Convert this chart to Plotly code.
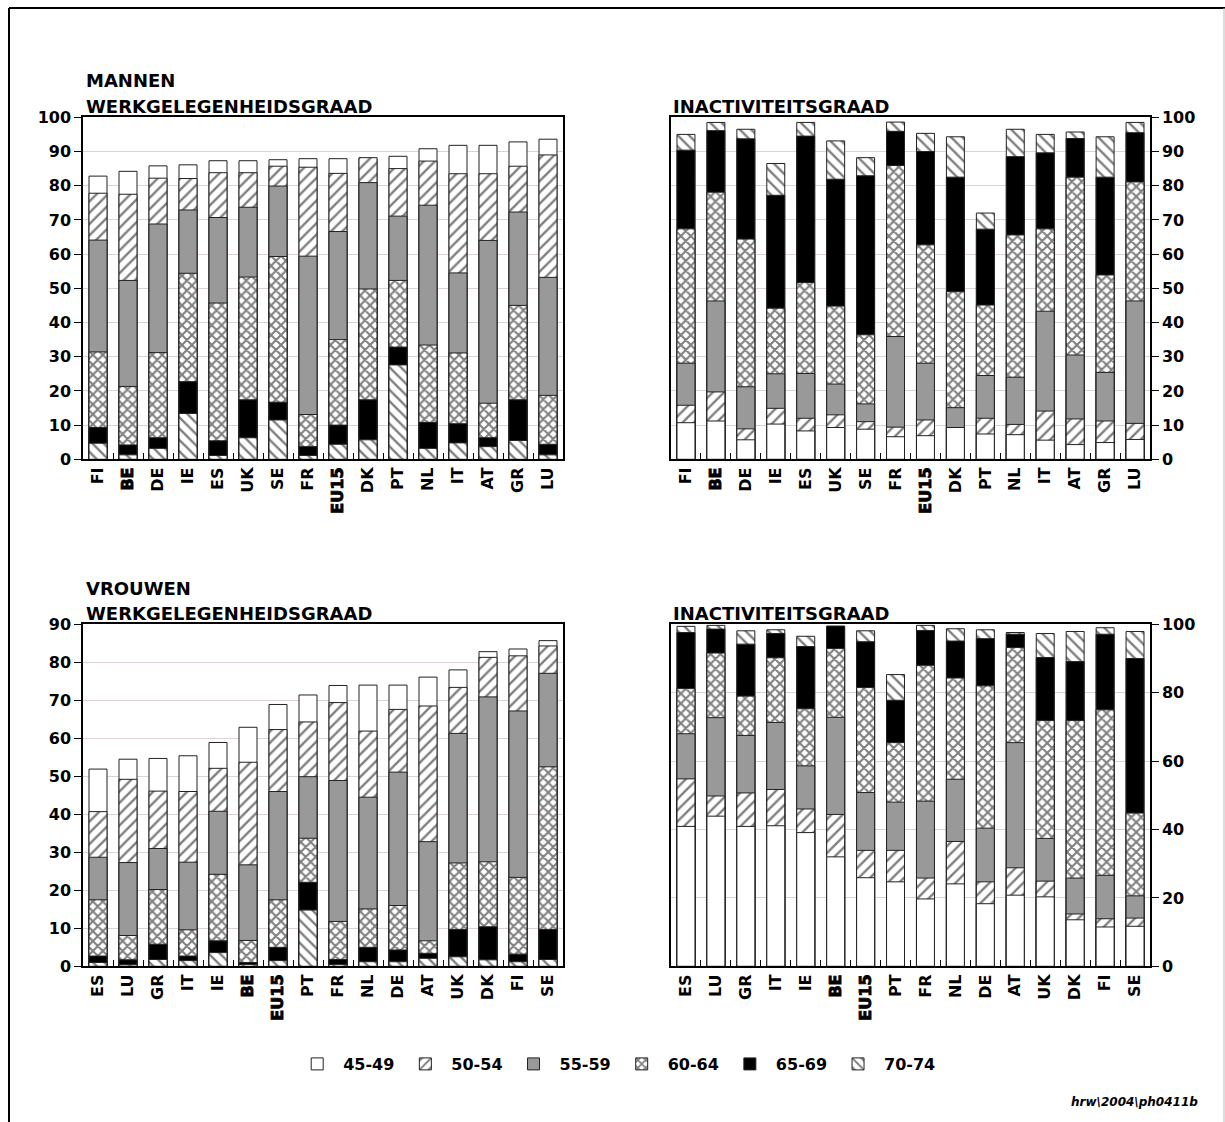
import plotly.graph_objects as go

# ---------------------------------------------------------------------------
# Data: rates (%) per age group, one list per age group and panel
# ---------------------------------------------------------------------------
AGE_GROUPS = ["45-49", "50-54", "55-59", "60-64", "65-69", "70-74"]

# Men - employment rate
MEN_EMP_COUNTRIES = ["FI", "BE", "DE", "IE", "ES", "UK", "SE", "FR",
                     "EU15", "DK", "PT", "NL", "IT", "AT", "GR", "LU"]
MEN_EMP_45_49 = [82.8, 84.2, 85.8, 86.1, 87.3, 87.3, 87.6, 87.9, 87.9, 87.9, 88.6, 90.8, 91.8, 91.8, 92.8, 93.6]
MEN_EMP_50_54 = [77.8, 77.5, 82.2, 82.1, 83.8, 83.8, 85.7, 85.4, 83.6, 88.2, 85.0, 87.2, 83.5, 83.5, 85.7, 89.0]
MEN_EMP_55_59 = [64.1, 52.3, 68.8, 72.9, 70.7, 73.7, 79.9, 59.4, 66.6, 80.9, 71.1, 74.3, 54.5, 64.0, 72.3, 53.2]
MEN_EMP_60_64 = [31.4, 21.3, 31.2, 54.4, 45.7, 53.3, 59.3, 13.1, 35.0, 49.8, 52.3, 33.4, 31.1, 16.4, 45.0, 18.7]
MEN_EMP_65_69 = [9.3, 4.2, 6.3, 22.7, 5.4, 17.4, 16.7, 3.7, 10.0, 17.4, 32.8, 10.8, 10.4, 6.3, 17.4, 4.4]
MEN_EMP_70_74 = [4.7, 1.3, 3.2, 13.4, 1.1, 6.3, 11.5, 1.1, 4.4, 5.7, 27.6, 3.2, 4.8, 3.7, 5.5, 1.3]

# Men - inactivity rate
MEN_INA_COUNTRIES = ["FI", "BE", "DE", "IE", "ES", "UK", "SE", "FR",
                     "EU15", "DK", "PT", "NL", "IT", "AT", "GR", "LU"]
MEN_INA_45_49 = [10.7, 11.2, 5.7, 10.3, 8.3, 9.3, 8.8, 6.6, 6.9, 9.3, 7.4, 7.2, 5.6, 4.3, 4.9, 5.8]
MEN_INA_50_54 = [15.8, 19.7, 8.9, 14.9, 12.0, 13.0, 11.0, 9.4, 11.5, 9.1, 12.0, 10.2, 14.1, 11.8, 11.2, 10.5]
MEN_INA_55_59 = [28.1, 46.3, 21.2, 25.0, 25.1, 22.0, 16.2, 35.9, 28.1, 15.1, 24.5, 24.0, 43.3, 30.5, 25.4, 46.3]
MEN_INA_60_64 = [67.4, 78.1, 64.4, 44.2, 51.7, 44.8, 36.4, 85.9, 62.7, 49.0, 45.1, 65.6, 67.4, 82.5, 53.9, 81.1]
MEN_INA_65_69 = [90.4, 96.1, 93.7, 77.2, 94.5, 81.9, 82.9, 95.9, 90.0, 82.5, 67.3, 88.5, 89.6, 93.8, 82.5, 95.5]
MEN_INA_70_74 = [95.0, 98.5, 96.5, 86.5, 98.5, 93.1, 88.2, 98.6, 95.3, 94.3, 72.0, 96.5, 95.0, 95.7, 94.3, 98.5]

# Women - employment rate
WOMEN_EMP_COUNTRIES = ["ES", "LU", "GR", "IT", "IE", "BE", "EU15", "PT",
                       "FR", "NL", "DE", "AT", "UK", "DK", "FI", "SE"]
WOMEN_EMP_45_49 = [51.9, 54.5, 54.7, 55.4, 58.9, 62.9, 68.9, 71.4, 73.9, 74.0, 74.0, 76.1, 78.0, 82.8, 83.5, 85.7]
WOMEN_EMP_50_54 = [40.7, 49.2, 46.1, 46.0, 52.1, 53.7, 62.3, 64.3, 69.4, 61.9, 67.6, 68.5, 73.4, 81.3, 81.7, 84.3]
WOMEN_EMP_55_59 = [28.7, 27.3, 31.0, 27.4, 40.8, 26.7, 46.0, 49.9, 48.9, 44.5, 51.1, 32.8, 61.3, 70.9, 67.2, 77.1]
WOMEN_EMP_60_64 = [17.5, 8.1, 20.2, 9.6, 24.2, 6.8, 17.5, 33.7, 11.8, 15.1, 16.0, 6.7, 27.2, 27.5, 23.4, 52.5]
WOMEN_EMP_65_69 = [2.7, 1.7, 5.8, 2.7, 6.7, 1.0, 5.0, 22.1, 1.8, 5.0, 4.3, 3.4, 9.7, 10.4, 3.2, 9.7]
WOMEN_EMP_70_74 = [1.0, 0.4, 1.8, 1.5, 3.6, 0.5, 1.5, 14.8, 0.5, 1.2, 1.2, 2.1, 2.5, 1.7, 1.2, 1.8]

# Women - inactivity rate
WOMEN_INA_COUNTRIES = ["ES", "LU", "GR", "IT", "IE", "BE", "EU15", "PT",
                       "FR", "NL", "DE", "AT", "UK", "DK", "FI", "SE"]
WOMEN_INA_45_49 = [40.9, 43.9, 40.9, 41.1, 39.1, 32.0, 25.9, 24.7, 19.7, 24.1, 18.3, 20.8, 20.3, 13.6, 11.5, 11.7]
WOMEN_INA_50_54 = [54.8, 49.8, 50.7, 51.7, 46.0, 44.4, 33.9, 33.9, 25.8, 36.5, 24.7, 28.8, 24.9, 15.3, 13.9, 14.1]
WOMEN_INA_55_59 = [68.0, 72.7, 67.5, 71.3, 58.6, 72.8, 50.8, 48.0, 48.3, 54.7, 40.4, 65.4, 37.4, 25.8, 26.6, 20.6]
WOMEN_INA_60_64 = [81.2, 91.6, 79.0, 90.2, 75.3, 92.9, 81.5, 65.4, 88.0, 84.3, 82.0, 93.2, 71.9, 71.9, 75.0, 44.8]
WOMEN_INA_65_69 = [97.6, 98.6, 94.2, 97.3, 93.5, 99.5, 94.9, 77.8, 98.2, 95.1, 95.8, 97.1, 90.3, 89.1, 97.1, 90.0]
WOMEN_INA_70_74 = [99.4, 99.7, 98.1, 98.4, 96.5, 99.3, 98.1, 85.3, 99.7, 98.7, 98.4, 97.6, 97.3, 97.9, 99.0, 97.9]

HIGHLIGHTED = {"BE", "EU15"}

# ---------------------------------------------------------------------------
# Styling
# ---------------------------------------------------------------------------
FONT = "DejaVu Sans"
OUTLINE = dict(color="#222222", width=1)


def age_marker(age):
    base = dict(line=OUTLINE)
    if age == "45-49":
        return dict(color="white", **base)
    if age == "55-59":
        return dict(color="#999999", **base)
    if age == "65-69":
        return dict(color="black", **base)
    shape, size, solidity = {"50-54": ("/", 8, 0.3),
                             "60-64": ("x", 7, 0.5),
                             "70-74": ("\\", 8, 0.3)}[age]
    return dict(color="white",
                pattern=dict(shape=shape, fgcolor="black", bgcolor="white",
                             size=size, solidity=solidity),
                **base)


def tick_text(countries):
    out = []
    for c in countries:
        if c in HIGHLIGHTED:
            out.append('<span style="stroke:black;stroke-width:0.8px">%s</span>' % c)
        else:
            out.append(c)
    return out


panels = [
    # (countries, series in age order, axis suffix, draw order)
    (MEN_EMP_COUNTRIES,
     [MEN_EMP_45_49, MEN_EMP_50_54, MEN_EMP_55_59, MEN_EMP_60_64, MEN_EMP_65_69, MEN_EMP_70_74],
     "", "down"),
    (MEN_INA_COUNTRIES,
     [MEN_INA_45_49, MEN_INA_50_54, MEN_INA_55_59, MEN_INA_60_64, MEN_INA_65_69, MEN_INA_70_74],
     "2", "up"),
    (WOMEN_EMP_COUNTRIES,
     [WOMEN_EMP_45_49, WOMEN_EMP_50_54, WOMEN_EMP_55_59, WOMEN_EMP_60_64, WOMEN_EMP_65_69, WOMEN_EMP_70_74],
     "3", "down"),
    (WOMEN_INA_COUNTRIES,
     [WOMEN_INA_45_49, WOMEN_INA_50_54, WOMEN_INA_55_59, WOMEN_INA_60_64, WOMEN_INA_65_69, WOMEN_INA_70_74],
     "4", "up"),
]

fig = go.Figure()

for p_idx, (countries, series, suffix, order) in enumerate(panels):
    idx = list(range(len(AGE_GROUPS)))
    # overlaid bars: the tallest age group goes to the back
    if order == "up":
        idx = idx[::-1]
    for i in idx:
        age = AGE_GROUPS[i]
        fig.add_trace(go.Bar(
            x=countries, y=series[i], name=age,
            marker=age_marker(age),
            xaxis="x" + suffix, yaxis="y" + suffix,
            showlegend=(p_idx == 0), legendrank=i + 1,
            hovertemplate="%{x}: %{y:.1f}%<extra>" + age + "</extra>",
        ))

W, H = 1225, 1122


def xdom(a, b):
    return [a / W, b / W]


def ydom(top, bottom):
    return [1 - bottom / H, 1 - top / H]


axis_common = dict(showline=True, linecolor="black", linewidth=1.5, mirror=True,
                   automargin=False,
                   tickfont=dict(family=FONT, size=16, color="black", weight="bold"))

x_common = dict(axis_common, type="category", ticks="inside", tickson="boundaries",
                ticklen=7, tickcolor="black", tickwidth=1, tickangle=-90,
                showgrid=False, fixedrange=True)
y_common = dict(axis_common, ticks="outside", ticklen=7, tickcolor="black", tickwidth=1.2,
                showgrid=True, gridcolor="#ddd3d3", gridwidth=1, zeroline=False,
                fixedrange=True)

LEFT = (83, 563)
RIGHT = (671, 1150)
TOP = (117.3, 459.3)
BOTTOM = (624.3, 966.3)

fig.update_layout(
    width=W, height=H,
    margin=dict(l=0, r=0, t=0, b=0, pad=0, autoexpand=False),
    paper_bgcolor="white", plot_bgcolor="white",
    barmode="overlay", bargap=0.4,
    font=dict(family=FONT, size=15, color="black", weight="bold"),
    xaxis=dict(x_common, domain=xdom(*LEFT), anchor="y",
               tickvals=MEN_EMP_COUNTRIES, ticktext=tick_text(MEN_EMP_COUNTRIES)),
    yaxis=dict(y_common, domain=ydom(*TOP), anchor="x", range=[0, 100], dtick=10),
    xaxis2=dict(x_common, domain=xdom(*RIGHT), anchor="y2",
                tickvals=MEN_INA_COUNTRIES, ticktext=tick_text(MEN_INA_COUNTRIES)),
    yaxis2=dict(y_common, domain=ydom(*TOP), anchor="x2", side="right",
                range=[0, 100], dtick=10),
    xaxis3=dict(x_common, domain=xdom(*LEFT), anchor="y3",
                tickvals=WOMEN_EMP_COUNTRIES, ticktext=tick_text(WOMEN_EMP_COUNTRIES)),
    yaxis3=dict(y_common, domain=ydom(*BOTTOM), anchor="x3", range=[0, 90], dtick=10),
    xaxis4=dict(x_common, domain=xdom(*RIGHT), anchor="y4",
                tickvals=WOMEN_INA_COUNTRIES, ticktext=tick_text(WOMEN_INA_COUNTRIES)),
    yaxis4=dict(y_common, domain=ydom(*BOTTOM), anchor="x4", side="right",
                range=[0, 100], dtick=20),
    legend=dict(orientation="h", x=0.503, xanchor="center", y=1 - 1064 / H, yanchor="middle",
                font=dict(family=FONT, size=16, color="black", weight="bold"),
                traceorder="normal", itemwidth=42, bgcolor="rgba(0,0,0,0)"),
)

title_font = dict(family=FONT, size=18, color="black", weight="bold")
titles = [
    ("MANNEN", 84, 81),
    ("WERKGELEGENHEIDSGRAAD", 84, 107),
    ("INACTIVITEITSGRAAD", 671, 107),
    ("VROUWEN", 84, 588),
    ("WERKGELEGENHEIDSGRAAD", 84, 613),
    ("INACTIVITEITSGRAAD", 671, 613),
]
for text, px, py in titles:
    fig.add_annotation(text=text, xref="paper", yref="paper", x=px / W, y=1 - py / H,
                       xanchor="left", yanchor="middle", showarrow=False, font=title_font)

fig.add_annotation(text="hrw\\2004\\ph0411b", xref="paper", yref="paper",
                   x=1200 / W, y=1 - 1102 / H, xanchor="right", yanchor="middle",
                   showarrow=False,
                   font=dict(family=FONT, size=12, color="black", weight="bold", style="italic"))

# page frame
fig.add_shape(type="line", xref="paper", yref="paper", x0=9 / W, x1=9 / W, y0=0, y1=1 - 8 / H,
              line=dict(color="black", width=2))
fig.add_shape(type="line", xref="paper", yref="paper", x0=9 / W, x1=1, y0=1 - 8 / H, y1=1 - 8 / H,
              line=dict(color="black", width=2))
fig.add_shape(type="line", xref="paper", yref="paper", x0=1224 / W, x1=1224 / W, y0=0, y1=1 - 8 / H,
              line=dict(color="#bbbbbb", width=1))

fig.write_html("out.html")
